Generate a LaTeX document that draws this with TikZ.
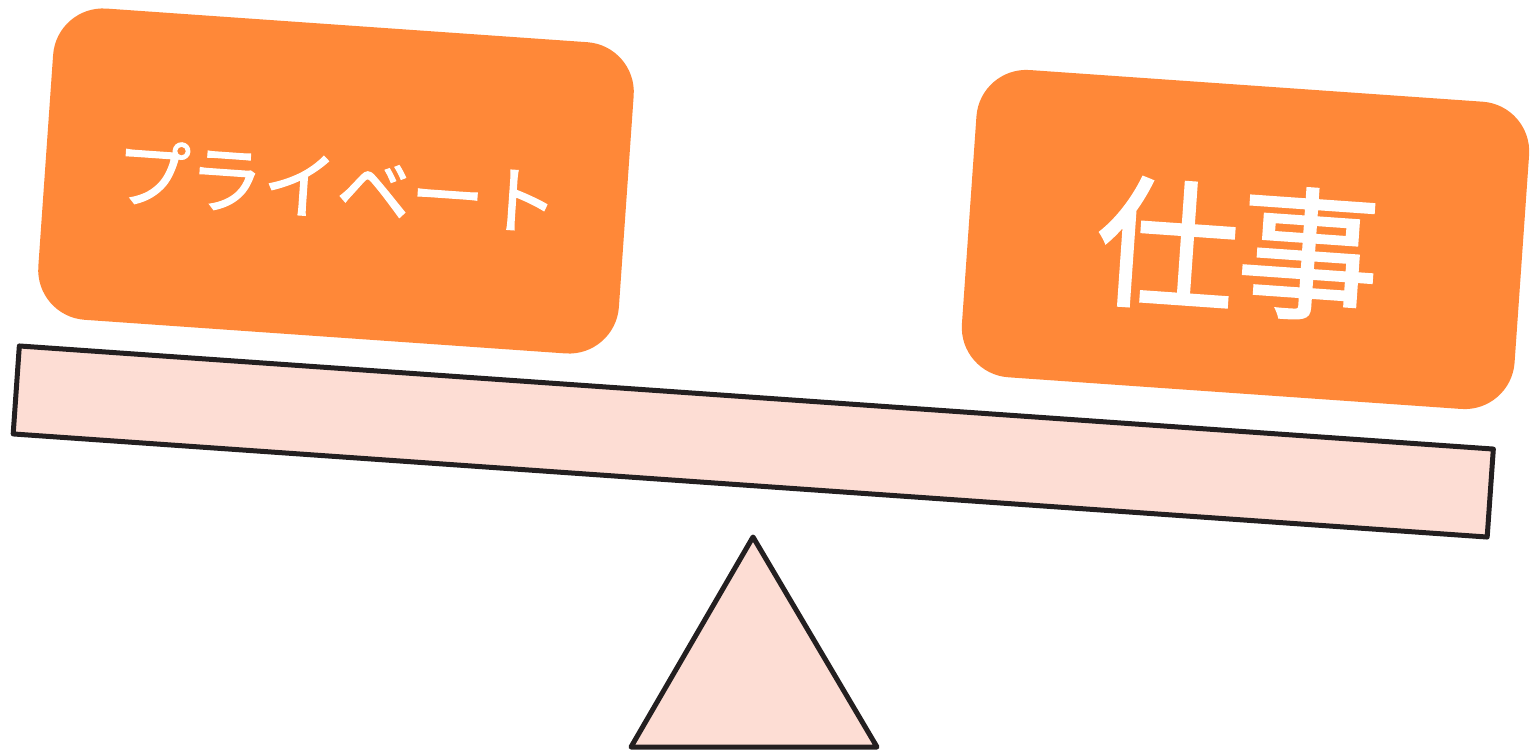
\documentclass[tikz,border=0pt]{standalone}
\usepackage{fontspec}
\newfontfamily\jpfont{Noto Sans CJK JP}[FakeBold=1.6]
\usetikzlibrary{positioning}
\definecolor{cardorange}{RGB}{255,136,56}
\definecolor{softpink}{RGB}{253,221,212}
\definecolor{edgeblack}{RGB}{35,31,32}
\tikzset{
  card/.style={fill=cardorange,rounded corners=50pt,inner sep=0pt,rotate=-4},
  cardlabel/.style={text=white,inner sep=0pt,rotate=-4},
  beam/.style={draw=edgeblack,fill=softpink,line width=5pt,line join=round,
    inner sep=0pt,rotate=-4},
  fulcrum/.style={draw=edgeblack,fill=softpink,line width=5pt,line join=round}
}

\begin{document}
\begin{tikzpicture}[x=1pt,y=-1pt]
  \useasboundingbox (0,0) rectangle (1534,751);
  % pans
  \node[card,minimum width=582pt,minimum height=312pt] (private) at (336,181) {};
  \node[card,minimum width=554pt,minimum height=308pt] (work) at (1245.5,239.5) {};
  \node[cardlabel,font=\jpfont\fontsize{74}{80}\selectfont] (privatetext) at (337,186) {プライベート};
  \node[cardlabel,font=\jpfont\fontsize{142}{150}\selectfont] (worktext) at (1238,249) {仕事};
  % seesaw
  \node[beam,minimum width=1477.6pt,minimum height=88.2pt] (plank) at (753.25,441.5) {};
  \coordinate (apex) at (753,537);
  \coordinate (baseleft) at (631,747);
  \coordinate (baseright) at (877,747);
  \draw[fulcrum] (apex) -- (baseright) -- (baseleft) -- cycle;
\end{tikzpicture}
\end{document}
